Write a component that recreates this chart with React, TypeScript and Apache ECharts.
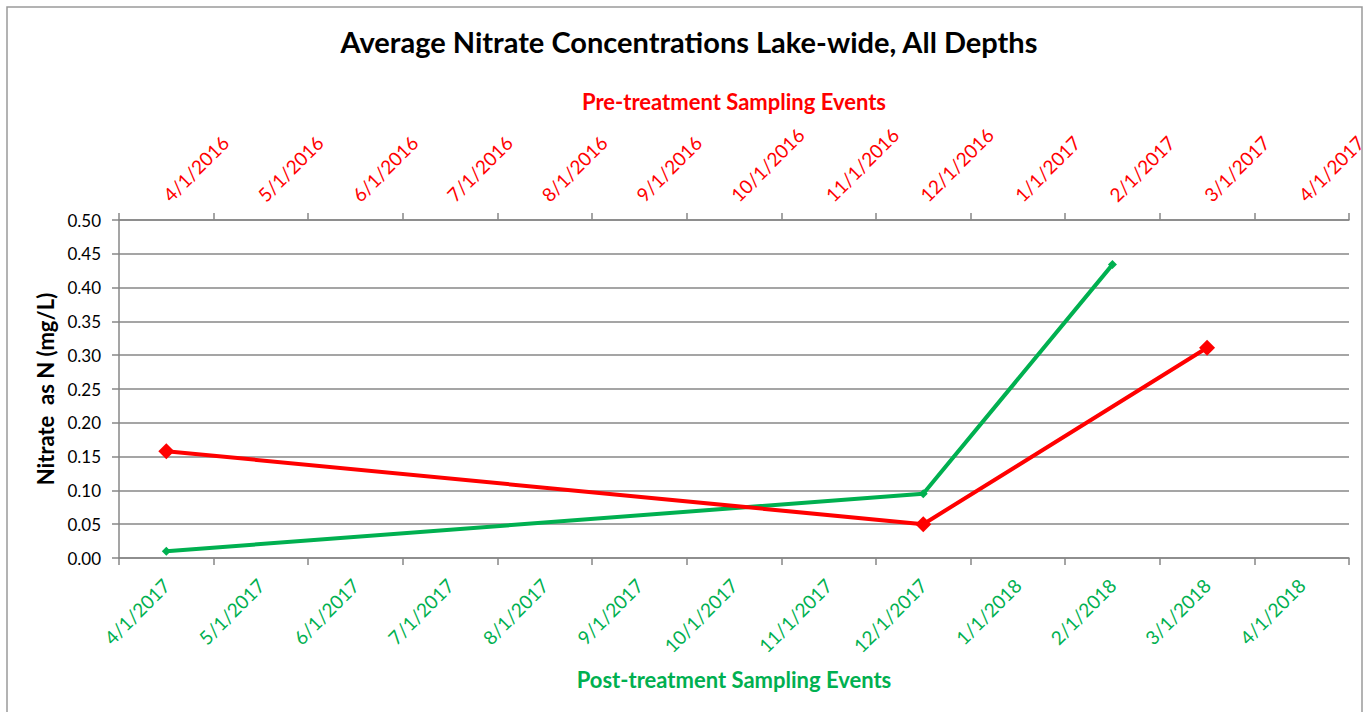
import React, { useEffect, useRef } from "react";
import * as echarts from "echarts";

const postDates = ["4/1/2017", "5/1/2017", "6/1/2017", "7/1/2017", "8/1/2017", "9/1/2017", "10/1/2017", "11/1/2017", "12/1/2017", "1/1/2018", "2/1/2018", "3/1/2018", "4/1/2018"];
const preDates = ["4/1/2016", "5/1/2016", "6/1/2016", "7/1/2016", "8/1/2016", "9/1/2016", "10/1/2016", "11/1/2016", "12/1/2016", "1/1/2017", "2/1/2017", "3/1/2017", "4/1/2017"];
const postValues: (number | null)[] = [0.01, null, null, null, null, null, null, null, 0.095, null, 0.434, null, null];
const preValues: (number | null)[] = [0.158, null, null, null, null, null, null, null, 0.05, null, null, 0.311, null];

const FONT = "Lato";
const GRAY = "#878787";
const RED = "#FF0000";
const GREEN = "#00B050";

export default function App() {
  const ref = useRef<HTMLDivElement>(null);
  useEffect(() => {
    if (!ref.current) return;
    const chart = echarts.init(ref.current, null, { renderer: "svg" });
    chart.setOption({
      animation: false,
      backgroundColor: "#fff",
      title: {
        text: "Average Nitrate Concentrations Lake-wide, All Depths",
        left: 684,
        textAlign: "center",
        top: 22,
        textStyle: { fontFamily: FONT, fontSize: 29, fontWeight: "bold", color: "#000" },
      },
      graphic: [
        {
          type: "rect",
          shape: { x: 7, y: 7, width: 1355, height: 720 },
          style: { fill: "none", stroke: "#9a9a9a", lineWidth: 1.5 },
          silent: true,
        },
      ],
      grid: { left: 119, right: 22, top: 220, bottom: 154 },
      xAxis: [
        {
          type: "category",
          position: "bottom",
          data: postDates,
          boundaryGap: true,
          axisLine: { lineStyle: { color: GRAY, width: 1.5 } },
          axisTick: { show: true, length: 7, lineStyle: { color: GRAY, width: 1.5 } },
          axisLabel: { rotate: 45, color: GREEN, fontFamily: FONT, fontSize: 19, margin: 24, interval: 0 },
          name: "Post-treatment Sampling Events",
          nameLocation: "middle",
          nameGap: 110,
          nameTextStyle: { color: GREEN, fontFamily: FONT, fontSize: 22, fontWeight: "bold" },
          splitLine: { show: false },
        },
        {
          type: "category",
          position: "top",
          data: preDates,
          boundaryGap: true,
          axisLine: { lineStyle: { color: GRAY, width: 1.5 } },
          axisTick: { show: true, length: 7, lineStyle: { color: GRAY, width: 1.5 } },
          axisLabel: { rotate: -45, color: RED, fontFamily: FONT, fontSize: 19, margin: 22, interval: 0 },
          name: "Pre-treatment Sampling Events",
          nameLocation: "middle",
          nameGap: 108,
          nameTextStyle: { color: RED, fontFamily: FONT, fontSize: 22, fontWeight: "bold" },
          splitLine: { show: false },
        },
      ],
      yAxis: {
        type: "value",
        min: 0,
        max: 0.5,
        interval: 0.05,
        axisLine: { show: true, lineStyle: { color: GRAY, width: 1.5 } },
        axisTick: { show: true, length: 7, lineStyle: { color: GRAY, width: 1.5 } },
        axisLabel: {
          color: "#000",
          fontFamily: FONT,
          fontSize: 17,
          margin: 18,
          formatter: (v: number) => v.toFixed(2),
        },
        splitLine: { show: true, lineStyle: { color: GRAY, width: 1.5 } },
        name: "Nitrate  as N (mg/L)",
        nameLocation: "middle",
        nameGap: 63,
        nameTextStyle: { color: "#000", fontFamily: FONT, fontSize: 22, fontWeight: "bold" },
      },
      series: [
        {
          name: "Post-treatment",
          type: "line",
          xAxisIndex: 0,
          data: postValues,
          connectNulls: true,
          symbol: "diamond",
          symbolSize: 9,
          lineStyle: { color: GREEN, width: 4 },
          itemStyle: { color: GREEN },
        },
        {
          name: "Pre-treatment",
          type: "line",
          xAxisIndex: 1,
          data: preValues,
          connectNulls: true,
          symbol: "diamond",
          symbolSize: 16,
          lineStyle: { color: RED, width: 4 },
          itemStyle: { color: RED },
        },
      ],
    });
    return () => chart.dispose();
  }, []);
  return (
    <div
      ref={ref}
      style={{ position: "absolute", left: 0, top: 0, width: 1371, height: 712 }}
    />
  );
}
